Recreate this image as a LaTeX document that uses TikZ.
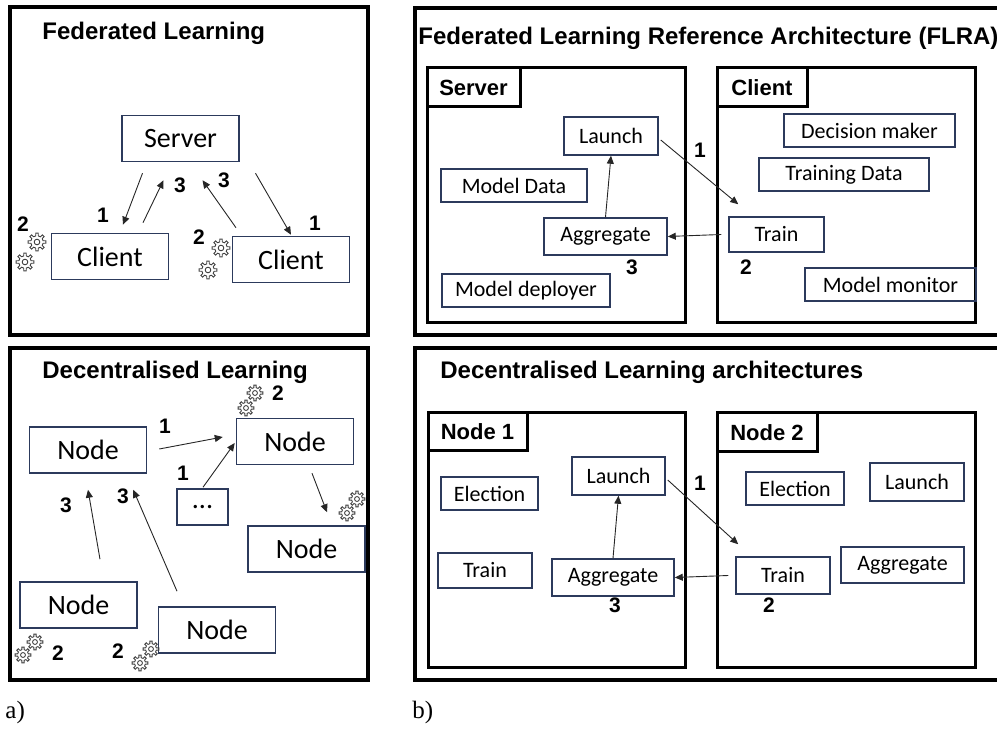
\documentclass[tikz,border=0pt]{standalone}
\usepackage{fontspec}
\usepackage{tikz}
\usetikzlibrary{arrows.meta,positioning}
\setmainfont{Liberation Serif}
\newfontfamily\headfont{Liberation Sans}
\newfontfamily\boxfont{Carlito}
\definecolor{boxblue}{RGB}{44,58,92}
\tikzset{
    panel-frame/.style = {draw=black, line width=2pt},
    part-frame/.style = {draw=black, line width=1.5pt, rectangle, inner sep=0pt, minimum width=129pt, minimum height=127.5pt},
    part-tab/.style = {draw=black, line width=1.5pt, rectangle, inner sep=0pt, minimum height=19.5pt, font=\headfont\bfseries\fontsize{11}{13}\selectfont},
    panel-title/.style = {anchor=west, inner sep=0pt, font=\headfont\bfseries\fontsize{12}{14}\selectfont},
    role-box/.style = {draw=boxblue, line width=0.75pt, rectangle, inner sep=0pt, minimum width=58.5pt, minimum height=23pt, font=\boxfont\fontsize{14}{16}\selectfont},
    comp-box/.style = {draw=boxblue, line width=0.75pt, rectangle, inner sep=0pt, minimum height=16.5pt, font=\boxfont\fontsize{11}{13}\selectfont},
    step-num/.style = {inner sep=0pt, font=\headfont\bfseries\fontsize{10.5}{12}\selectfont},
    msg-arrow/.style = {draw=black!85, line width=0.45pt, -{Triangle[length=4pt,width=3.5pt]}},
    gear-line/.style = {draw=black!75, line width=0.45pt},
    gear/.pic = {
        \draw[gear-line] \foreach \a in {0,45,...,315} {(\a-12:3.1pt) -- (\a-8:4.5pt) -- (\a+8:4.5pt) -- (\a+12:3.1pt) arc[start angle=\a+12, end angle=\a+33, radius=3.1pt]};
        \draw[gear-line] (0,0) circle[radius=1.4pt];
    },
}

\begin{document}
\begin{tikzpicture}[x=0.5pt, y=-0.5pt]
\useasboundingbox (0,0) rectangle (997,753);
\clip (0,0) rectangle (997,753);

\draw[panel-frame] (10,7) rectangle (368,335);
\draw[panel-frame] (10,348) rectangle (368,680);
\draw[panel-frame] (415,8) rectangle (1003,335);
\draw[panel-frame] (415,348) rectangle (1003,680);

% a) federated learning
\node[panel-title] (fl-title) at (42,33) {Federated Learning};
\node[role-box] (server) at (180.5,138.5) {Server};
\node[role-box] (client-a) at (110,256.5) {Client};
\node[role-box] (client-b) at (291,259.5) {Client};
\draw[msg-arrow] ([shift={(-38,11)}]server.south) -- ([shift={(13,-8)}]client-a.north);
\draw[msg-arrow] ([shift={(33,-10)}]client-a.north) -- ([shift={(-17,18)}]server.south);
\draw[msg-arrow] ([shift={(-55,-8)}]client-b.north) -- ([shift={(22,18)}]server.south);
\draw[msg-arrow] ([shift={(75,11)}]server.south) -- ([shift={(0,-1)}]client-b.north);
\node[step-num] (fl-1a) at (103,215) {1};
\node[step-num] (fl-3a) at (180,185) {3};
\node[step-num] (fl-3b) at (224,180) {3};
\node[step-num] (fl-1b) at (315,223) {1};
\node[step-num] (fl-2a) at (23,224) {2};
\node[step-num] (fl-2b) at (199,237) {2};
\pic (gear-a1) at (37,242) {gear};
\pic (gear-a2) at (25,262) {gear};
\pic (gear-b1) at (221,248) {gear};
\pic (gear-b2) at (208,270) {gear};

% a) decentralised learning
\node[panel-title] (dl-title) at (42,372) {Decentralised Learning};
\node[role-box] (node-a) at (88,450) {Node};
\node[role-box] (node-b) at (295,441.5) {Node};
\node[role-box, minimum width=25.5pt, minimum height=18pt] (node-dots) at (202.5,507) {...};
\node[role-box] (node-c) at (306.5,549) {Node};
\node[role-box] (node-d) at (78.5,605) {Node};
\node[role-box] (node-e) at (217,630) {Node};
\draw[msg-arrow] ([shift={(12,-1)}]node-a.east) -- ([shift={(-13,-4.5)}]node-b.west);
\draw[msg-arrow] ([shift={(0.5,-1)}]node-dots.north) -- ([shift={(-1,1.5)}]node-b.west);
\draw[msg-arrow] ([shift={(17,8)}]node-b.south) -- ([shift={(20.5,-13)}]node-c.north);
\draw[msg-arrow] ([shift={(21.5,-22)}]node-d.north) -- ([shift={(0,16)}]node-a.south);
\draw[msg-arrow] ([shift={(-40,-15)}]node-e.north) -- ([shift={(-14,16)}]node-a.south east);
\node[step-num] (dl-1a) at (165,426) {1};
\node[step-num] (dl-1b) at (183,473) {1};
\node[step-num] (dl-3a) at (66,505) {3};
\node[step-num] (dl-3b) at (123,496) {3};
\node[step-num] (dl-2b) at (278,393) {2};
\node[step-num] (dl-2d) at (58,653) {2};
\node[step-num] (dl-2e) at (118,651) {2};
\pic[scale=0.88] (gear-nb1) at (255,393) {gear};
\pic[scale=0.88] (gear-nb2) at (246,408) {gear};
\pic[scale=0.88] (gear-nc1) at (357,499) {gear};
\pic[scale=0.88] (gear-nc2) at (347,513) {gear};
\pic[scale=0.88] (gear-nd1) at (35,642) {gear};
\pic[scale=0.88] (gear-nd2) at (23,655) {gear};
\pic[scale=0.88] (gear-ne1) at (151,649) {gear};
\pic[scale=0.88] (gear-ne2) at (140,663) {gear};

% b) FLRA
\node[panel-title] (flra-title) at (418,38) {Federated Learning Reference Architecture (FLRA)};
\node[part-frame] (server-part) at (556,195.5) {};
\node[part-tab, minimum width=46.5pt, below right=0pt] at (server-part.north west) {Server};
\node[part-frame] (client-part) at (846,195.5) {};
\node[part-tab, minimum width=45pt, below right=0pt] at (client-part.north west) {Client};
\node[comp-box, minimum width=47pt, minimum height=19pt] (launch-s) at (611,136) {Launch};
\node[comp-box, minimum width=73pt] (model-data) at (514,185.5) {Model Data};
\node[comp-box, minimum width=61.5pt, minimum height=18.5pt] (agg-s) at (605.5,236.5) {Aggregate};
\node[comp-box, minimum width=84pt] (deployer) at (526,290.5) {Model deployer};
\node[comp-box, minimum width=85.5pt] (decider) at (869.5,130.5) {Decision maker};
\node[comp-box, minimum width=85pt] (train-data) at (844,174.5) {Training Data};
\node[comp-box, minimum width=47.5pt, minimum height=17.5pt] (train-c) at (776.5,234.5) {Train};
\node[comp-box, minimum width=85.5pt] (monitor) at (890.5,284.5) {Model monitor};
\draw[msg-arrow] (agg-s.north) -- (launch-s.south);
\draw[msg-arrow] ([shift={(2,4)}]launch-s.east) -- ([shift={(10,-12)}]train-c.north west);
\draw[msg-arrow] ([xshift=-3.5pt]train-c.west) -- (agg-s.east);
\node[step-num] (flra-1) at (700,150) {1};
\node[step-num] (flra-3) at (632,267) {3};
\node[step-num] (flra-2) at (746,267) {2};

% b) decentralised architectures
\node[panel-title] (dla-title) at (440,372) {Decentralised Learning architectures};
\node[part-frame, minimum width=128.5pt] (node1-part) at (556.5,540.5) {};
\node[part-tab, minimum width=49.5pt, minimum height=19pt, below right=0pt] at (node1-part.north west) {Node 1};
\node[part-frame] (node2-part) at (846,540.5) {};
\node[part-tab, minimum width=50pt, below right=0pt] at (node2-part.north west) {Node 2};
\node[comp-box, minimum width=48.5pt] (elect-n1) at (489.5,493.5) {Election};
\node[comp-box, minimum width=46.5pt, minimum height=19pt] (launch-n1) at (618.5,476) {Launch};
\node[comp-box, minimum width=47pt, minimum height=17.5pt] (train-n1) at (485,570.5) {Train};
\node[comp-box, minimum width=61pt, minimum height=18.5pt] (agg-n1) at (613,577.5) {Aggregate};
\node[comp-box, minimum width=49pt] (elect-n2) at (795,488.5) {Election};
\node[comp-box, minimum width=47pt, minimum height=19pt] (launch-n2) at (917,482) {Launch};
\node[comp-box, minimum width=47pt, minimum height=18.5pt] (train-n2) at (783,575.5) {Train};
\node[comp-box, minimum width=61.5pt, minimum height=18pt] (agg-n2) at (902.5,565) {Aggregate};
\draw[msg-arrow] (agg-n1.north) -- (launch-n1.south);
\draw[msg-arrow] ([shift={(2,4)}]launch-n1.east) -- ([shift={(3,-12)}]train-n2.north west);
\draw[msg-arrow] ([xshift=-3.5pt]train-n2.west) -- (agg-n1.east);
\node[step-num] (dla-1) at (700,483) {1};
\node[step-num] (dla-3) at (615,605) {3};
\node[step-num] (dla-2) at (769,605) {2};

\node[anchor=west, inner sep=0pt, font=\fontsize{12.5}{14}\selectfont] (cap-a) at (5,712) {a)};
\node[anchor=west, inner sep=0pt, font=\fontsize{12.5}{14}\selectfont] (cap-b) at (412,712) {b)};
\end{tikzpicture}
\end{document}
